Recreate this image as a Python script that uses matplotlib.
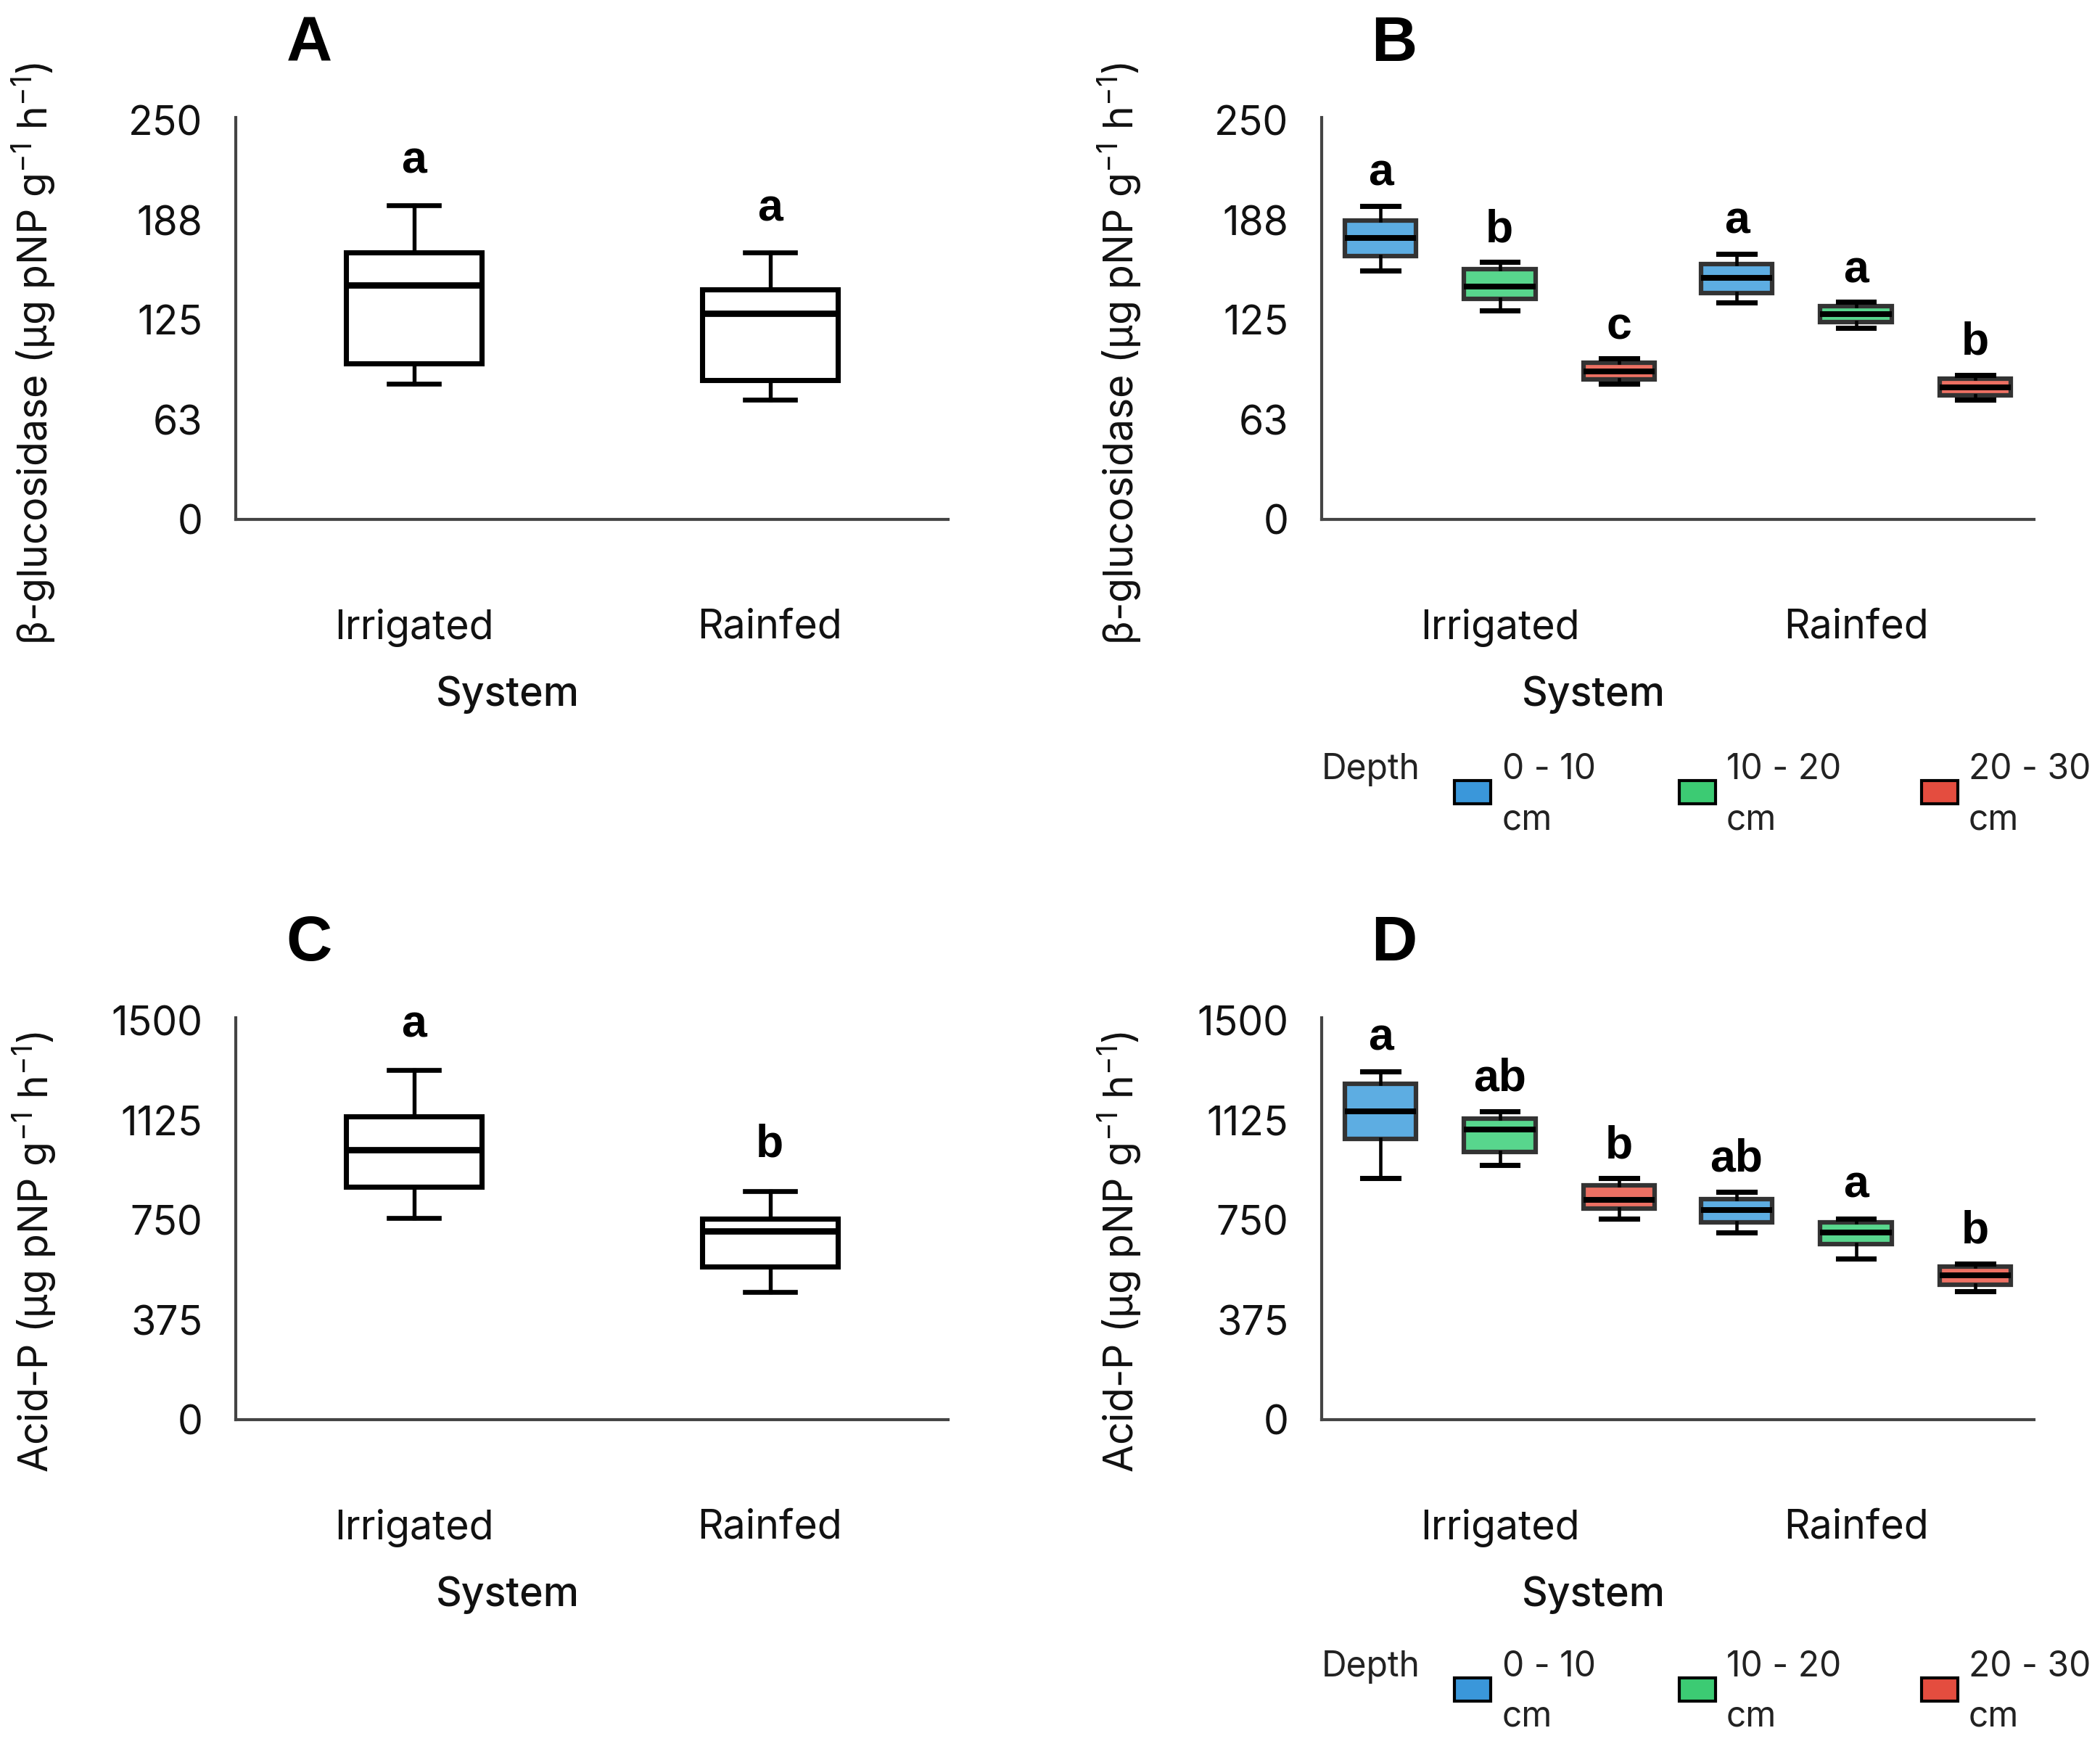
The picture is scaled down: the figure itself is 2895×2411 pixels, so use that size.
import matplotlib
matplotlib.use("Agg")
import matplotlib.pyplot as plt
from matplotlib.patches import Rectangle

plt.rcParams['font.family'] = ['Inter', 'DejaVu Sans']
plt.rcParams['mathtext.fontset'] = 'custom'
plt.rcParams['mathtext.rm'] = 'Inter'
plt.rcParams['mathtext.it'] = 'Inter'

# ---------------- data ----------------
systems = ["Irrigated", "Rainfed"]
depths = ["0 - 10\ncm", "10 - 20\ncm", "20 - 30\ncm"]

# Panel A: beta-glucosidase by system  (whislo, q1, med, q3, whishi)
glu_sys_lo = [85, 75]
glu_sys_q1 = [98, 87.5]
glu_sys_med = [147, 129]
glu_sys_q3 = [167.5, 144]
glu_sys_hi = [197, 167.5]
glu_sys_letters = ["a", "a"]
glu_sys_letter_y = [217, 187]

# Panel B: beta-glucosidase by system x depth (Irr 0-10, 10-20, 20-30, Rain 0-10, 10-20, 20-30)
glu_dep_lo = [156, 131, 85, 136, 120.3, 75.2]
glu_dep_q1 = [165.2, 138.1, 87.7, 141.8, 123.8, 77.9]
glu_dep_med = [176.4, 145.9, 92.6, 151.6, 128.6, 82.8]
glu_dep_q3 = [187.5, 156.8, 98.2, 159.9, 133.6, 88.4]
glu_dep_hi = [196.7, 161.4, 100.8, 166.7, 136.6, 90.7]
glu_dep_letters = ["a", "b", "c", "a", "a", "b"]
glu_dep_letter_y = [209.5, 174, 113, 179.5, 148.6, 103.5]

# Panel C: acid phosphatase by system
acp_sys_lo = [760, 480]
acp_sys_q1 = [875, 575]
acp_sys_med = [1015, 710]
acp_sys_q3 = [1140, 755]
acp_sys_hi = [1315, 860]
acp_sys_letters = ["a", "b"]
acp_sys_letter_y = [1440, 990]

# Panel D: acid phosphatase by system x depth
acp_dep_lo = [908, 957, 756, 704, 605, 483]
acp_dep_q1 = [1057, 1007, 793, 741, 660, 508]
acp_dep_med = [1160, 1091, 827, 788, 704, 542]
acp_dep_q3 = [1264, 1133, 881, 831, 741, 576]
acp_dep_hi = [1311, 1160, 908, 858, 756, 587]
acp_dep_letters = ["a", "ab", "b", "ab", "a", "b"]
acp_dep_letter_y = [1391, 1237, 985, 935, 836, 664]

glu_ticks = [0, 62.5, 125, 187.5, 250]
glu_ticklabels = ["0", "63", "125", "188", "250"]
acp_ticks = [0, 375, 750, 1125, 1500]
acp_ticklabels = ["0", "375", "750", "1125", "1500"]

box_colors = ["#5DADE2", "#58D68D", "#EC7063"]
legend_colors = ["#3A97DA", "#3CCB73", "#E44D3F"]

glu_label = r"β-glucosidase (µg pNP g$^{-1}$ h$^{-1}$)"
acp_label = r"Acid-P (µg pNP g$^{-1}$ h$^{-1}$)"

# ---------------- figure ----------------
W, H = 2895, 2411
fig = plt.figure(figsize=(W / 300, H / 300), dpi=300)

def fx(px):
    return px / W

def fy(py):
    return 1 - py / H

ax_w = (1307 - 325) / W
ax_h = (716 - 162) / H
axA = fig.add_axes([fx(325), fy(716), ax_w, ax_h])
axB = fig.add_axes([fx(1822), fy(716), ax_w, ax_h])
axC = fig.add_axes([fx(325), fy(1957), ax_w, ax_h])
axD = fig.add_axes([fx(1822), fy(1957), ax_w, ax_h])

sys_pos = [0.5, 1.5]
dep_off = [-0.335, 0.0, 0.335]
FS = 13.3


def stats(lo, q1, med, q3, hi):
    return [dict(whislo=a, q1=b, med=c, q3=d, whishi=e, fliers=[])
            for a, b, c, d, e in zip(lo, q1, med, q3, hi)]


def style_axis(ax, ymax, ticks, ticklabels, ylabel, label_y):
    ax.set_xlim(0, 2)
    ax.set_ylim(0, ymax)
    ax.set_yticks(ticks)
    ax.set_yticklabels(ticklabels)
    ax.set_xticks(sys_pos)
    ax.set_xticklabels(systems)
    for s in ["top", "right"]:
        ax.spines[s].set_visible(False)
    for s in ["left", "bottom"]:
        ax.spines[s].set_color("#444444")
        ax.spines[s].set_linewidth(1.0)
    ax.tick_params(axis="y", length=0, pad=11, labelsize=FS, colors="#111111")
    ax.tick_params(axis="x", length=0, pad=29.5, labelsize=FS, colors="#111111")
    ax.set_xlabel("System", fontsize=FS, color="#111111", fontweight="medium")
    ax.xaxis.set_label_coords(0.3816, -0.437)
    ax.xaxis.label.set_va("center")
    ax.set_ylabel(ylabel, fontsize=FS, color="#111111")
    ax.yaxis.set_label_coords(-0.25, label_y)


def system_panel(ax, st, letters, letter_y):
    ax.bxp(st, positions=sys_pos, widths=0.38, showfliers=False, patch_artist=True,
           boxprops=dict(facecolor="white", edgecolor="black", linewidth=1.7),
           medianprops=dict(color="black", linewidth=2.1),
           whiskerprops=dict(color="black", linewidth=1.3),
           capprops=dict(color="black", linewidth=1.6),
           capwidths=0.14)
    for p, l, y in zip(sys_pos, letters, letter_y):
        ax.text(p, y, l, ha="center", va="baseline", fontsize=15, fontweight="bold",
                family=["Liberation Sans"])


def depth_panel(ax, st, letters, letter_y):
    positions = [s + o for s in sys_pos for o in dep_off]
    bp = ax.bxp(st, positions=positions, widths=0.2, showfliers=False, patch_artist=True,
                boxprops=dict(edgecolor="#333333", linewidth=1.5),
                medianprops=dict(color="black", linewidth=1.9),
                whiskerprops=dict(color="black", linewidth=1.1),
                capprops=dict(color="black", linewidth=1.7),
                capwidths=0.1)
    for i, b in enumerate(bp["boxes"]):
        b.set_facecolor(box_colors[i % 3])
    for p, l, y in zip(positions, letters, letter_y):
        ax.text(p, y, l, ha="center", va="baseline", fontsize=15, fontweight="bold",
                family=["Liberation Sans"])


system_panel(axA, stats(glu_sys_lo, glu_sys_q1, glu_sys_med, glu_sys_q3, glu_sys_hi),
             glu_sys_letters, glu_sys_letter_y)
depth_panel(axB, stats(glu_dep_lo, glu_dep_q1, glu_dep_med, glu_dep_q3, glu_dep_hi),
            glu_dep_letters, glu_dep_letter_y)
system_panel(axC, stats(acp_sys_lo, acp_sys_q1, acp_sys_med, acp_sys_q3, acp_sys_hi),
             acp_sys_letters, acp_sys_letter_y)
depth_panel(axD, stats(acp_dep_lo, acp_dep_q1, acp_dep_med, acp_dep_q3, acp_dep_hi),
            acp_dep_letters, acp_dep_letter_y)

style_axis(axA, 252, glu_ticks, glu_ticklabels, glu_label, 0.413)
style_axis(axB, 252, glu_ticks, glu_ticklabels, glu_label, 0.413)
style_axis(axC, 1512, acp_ticks, acp_ticklabels, acp_label, 0.417)
style_axis(axD, 1512, acp_ticks, acp_ticklabels, acp_label, 0.417)

# panel letters
for lab, x, y in [("A", 426, 61), ("B", 1922, 61), ("C", 426, 1301), ("D", 1922, 1301)]:
    fig.text(fx(x), fy(y), lab, ha="center", va="center", fontsize=21, fontweight="bold",
             family=["Liberation Sans"])

# legends (manual, below B and D)
leg_patch_x = [2005, 2315, 2649]
leg_text_x = [2071, 2380, 2714]
LFS = 11.5
for top in [1061, 2298]:
    fig.text(fx(1822), fy(top), "Depth", ha="left", va="center", fontsize=LFS, color="#222222")
    for i in range(3):
        fig.add_artist(Rectangle((fx(leg_patch_x[i]), fy(top + 47)), fx(50), 32 / H,
                                 transform=fig.transFigure, facecolor=legend_colors[i],
                                 edgecolor="black", linewidth=1.0))
        line1, line2 = depths[i].split("\n")
        fig.text(fx(leg_text_x[i]), fy(top), line1, ha="left", va="center",
                 fontsize=LFS, color="#222222")
        fig.text(fx(leg_text_x[i]), fy(top + 69), line2, ha="left", va="center",
                 fontsize=LFS, color="#222222")

fig.savefig("out.png", dpi=300, facecolor="white")
